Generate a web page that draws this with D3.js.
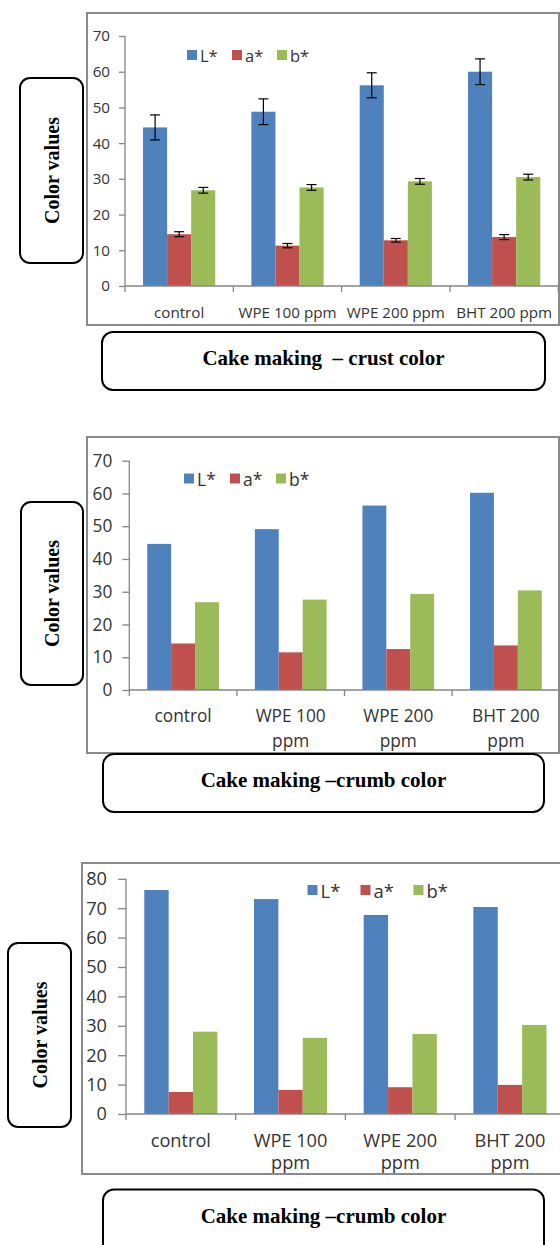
<!DOCTYPE html>
<html>
<head>
<meta charset="utf-8">
<script src="https://cdn.jsdelivr.net/npm/d3@7"></script>
<style>
html,body{margin:0;padding:0;background:#fff;}
svg{display:block;}
</style>
</head>
<body>
<svg id="chart" width="560" height="1245"></svg>
<script>
// ---------- DATA ----------
const series = ["L*", "a*", "b*"];
const colors = ["#4F81BD", "#C0504D", "#9BBB59"];

const crustCategories = [["control"], ["WPE 100 ppm"], ["WPE 200 ppm"], ["BHT 200 ppm"]];
const crumbCategories = [["control"], ["WPE 100", "ppm"], ["WPE 200", "ppm"], ["BHT 200", "ppm"]];

const crustL = [44.4, 48.8, 56.2, 60.0];
const crustA = [14.5, 11.3, 12.8, 13.7];
const crustB = [26.8, 27.6, 29.3, 30.5];
const crustLErr = [3.5, 3.6, 3.5, 3.6];
const crustAErr = [0.7, 0.6, 0.5, 0.7];
const crustBErr = [0.8, 0.8, 0.8, 0.8];

const crumb1L = [44.6, 49.1, 56.3, 60.2];
const crumb1A = [14.2, 11.5, 12.5, 13.6];
const crumb1B = [26.8, 27.6, 29.3, 30.4];

const crumb2L = [76.2, 73.1, 67.7, 70.4];
const crumb2A = [7.5, 8.2, 9.1, 9.9];
const crumb2B = [28.0, 25.9, 27.2, 30.3];

const yTicks70 = [0, 10, 20, 30, 40, 50, 60, 70];
const yTicks80 = [0, 10, 20, 30, 40, 50, 60, 70, 80];

const yTitle = "Color values";
const titles = ["Cake making  \u2013 crust color", "Cake making \u2013crumb color", "Cake making \u2013crumb color"];

// ---------- LAYOUT ----------
const panels = [
  { cats: crustCategories, vals: [crustL, crustA, crustB], errs: [crustLErr, crustAErr, crustBErr],
    yMax: 70, ticks: yTicks70,
    frame: [87, 13, 472, 312], x0: 125, x1: 558.3, yBase: 286, yTop: 36,
    tickSize: 6, tickPad: 9, font: 15.2, xLabelY: [311.5], legend: {x: 187, y: 50, gap: 45, fs: 16.5},
    ybox: [20, 78, 63, 185], tbox: [102, 332, 443, 58], title: titles[0], titleY: 365 },
  { cats: crumbCategories, vals: [crumb1L, crumb1A, crumb1B], errs: null,
    yMax: 70, ticks: yTicks70,
    frame: [87, 437, 472, 316], x0: 129.3, x1: 559.7, yBase: 690, yTop: 460.7,
    tickSize: 7, tickPad: 10, font: 17.3, xLabelY: [715, 740], legend: {x: 184, y: 473.5, gap: 46, fs: 17.5},
    ybox: [21, 502, 62, 183], tbox: [103, 754, 441, 58], title: titles[1], titleY: 786.5 },
  { cats: crumbCategories, vals: [crumb2L, crumb2A, crumb2B], errs: null,
    yMax: 80, ticks: yTicks80,
    frame: [82, 863, 500, 311], x0: 126, x1: 564.8, yBase: 1114, yTop: 878.8,
    tickSize: 8, tickPad: 11, font: 18.2, xLabelY: [1139.5, 1162], legend: {x: 307.5, y: 885, gap: 53, fs: 18.5},
    ybox: [8, 943, 63, 184], tbox: [103, 1189.5, 441, 70], title: titles[2], titleY: 1223 }
];

const svg = d3.select("#chart");
const tickFont = "'Open Sans', Lato, sans-serif";
const serif = "'Liberation Serif', 'Times New Roman', serif";

panels.forEach(p => {
  const g = svg.append("g");
  // frame
  g.append("rect").attr("x", p.frame[0]).attr("y", p.frame[1])
    .attr("width", p.frame[2]).attr("height", p.frame[3])
    .attr("fill", "#fff").attr("stroke", "#8a8a8a").attr("stroke-width", 2);

  const catIdx = d3.range(p.cats.length);
  const x = d3.scaleBand().domain(catIdx).range([p.x0, p.x1]).paddingInner(0).paddingOuter(0);
  const xs = d3.scaleBand().domain(series).range([0, x.bandwidth()]).paddingInner(0).paddingOuter(0.75);
  const y = d3.scaleLinear().domain([0, p.yMax]).range([p.yBase, p.yTop]);

  // bars
  series.forEach((s, si) => {
    g.append("g").selectAll("rect").data(p.vals[si]).join("rect")
      .attr("x", (d, i) => x(i) + xs(s))
      .attr("y", d => y(d))
      .attr("width", xs.bandwidth())
      .attr("height", d => y(0) - y(d))
      .attr("fill", colors[si]);
  });

  // error bars
  if (p.errs) {
    series.forEach((s, si) => {
      const eg = g.append("g").attr("stroke", "#000").attr("stroke-width", 1.2);
      p.vals[si].forEach((v, i) => {
        const cx = x(i) + xs(s) + xs.bandwidth() / 2;
        const e = p.errs[si][i];
        eg.append("line").attr("x1", cx).attr("x2", cx).attr("y1", y(v + e)).attr("y2", y(v - e));
        eg.append("line").attr("x1", cx - 5).attr("x2", cx + 5).attr("y1", y(v + e)).attr("y2", y(v + e));
        eg.append("line").attr("x1", cx - 5).attr("x2", cx + 5).attr("y1", y(v - e)).attr("y2", y(v - e));
      });
    });
  }

  // y axis
  const ya = g.append("g").attr("transform", `translate(${p.x0},0)`)
    .call(d3.axisLeft(y).tickValues(p.ticks).tickSize(p.tickSize).tickPadding(p.tickPad).tickSizeOuter(0));
  ya.select(".domain").attr("stroke", "#868686").attr("stroke-width", 1.3);
  ya.selectAll(".tick line").attr("stroke", "#868686").attr("stroke-width", 1.3);
  ya.selectAll(".tick text").attr("font-family", tickFont).attr("font-size", p.font).attr("fill", "#333");
  ya.select(".domain").attr("d", `M0,${p.yBase}V${p.yTop}`);

  // x axis line + boundary ticks
  const xg = g.append("g").attr("stroke", "#868686").attr("stroke-width", 1.3);
  xg.append("line").attr("x1", p.x0).attr("x2", p.x1).attr("y1", y(0)).attr("y2", y(0));
  catIdx.concat([p.cats.length]).forEach(i => {
    const bx = i < p.cats.length ? x(i) : p.x1;
    xg.append("line").attr("x1", bx).attr("x2", bx).attr("y1", y(0)).attr("y2", y(0) + 6);
  });

  // x labels
  p.cats.forEach((lines, i) => {
    lines.forEach((t, li) => {
      g.append("text").attr("x", x(i) + x.bandwidth() / 2).attr("y", p.xLabelY[li])
        .attr("text-anchor", "middle").attr("dominant-baseline", "central")
        .attr("font-family", tickFont).attr("font-size", p.font).attr("fill", "#333").text(t);
    });
  });

  // legend
  series.forEach((s, si) => {
    const lx = p.legend.x + si * p.legend.gap;
    g.append("rect").attr("x", lx).attr("y", p.legend.y).attr("width", 10).attr("height", 10).attr("fill", colors[si]);
    g.append("text").attr("x", lx + 13).attr("y", p.legend.y + 5).attr("dominant-baseline", "central")
      .attr("font-family", tickFont).attr("font-size", p.legend.fs).attr("fill", "#333").text(s);
  });

  // y title box
  g.append("rect").attr("x", p.ybox[0]).attr("y", p.ybox[1]).attr("width", p.ybox[2]).attr("height", p.ybox[3])
    .attr("rx", 10).attr("fill", "#fff").attr("stroke", "#000").attr("stroke-width", 2);
  const ycx = p.ybox[0] + p.ybox[2] / 2, ycy = p.ybox[1] + p.ybox[3] / 2;
  g.append("text").attr("transform", `translate(${ycx + 7},${ycy}) rotate(-90)`)
    .attr("text-anchor", "middle").attr("font-family", serif).attr("font-weight", "bold")
    .attr("font-size", 20).attr("fill", "#000").text(yTitle);

  // title box
  g.append("rect").attr("x", p.tbox[0]).attr("y", p.tbox[1]).attr("width", p.tbox[2]).attr("height", p.tbox[3])
    .attr("rx", 11).attr("fill", "#fff").attr("stroke", "#000").attr("stroke-width", 2);
  g.append("text").attr("x", p.tbox[0] + p.tbox[2] / 2).attr("y", p.titleY)
    .attr("text-anchor", "middle").attr("font-family", serif).attr("font-weight", "bold")
    .attr("font-size", 21).attr("fill", "#000").style("white-space", "pre").text(p.title);
});
</script>
</body>
</html>
